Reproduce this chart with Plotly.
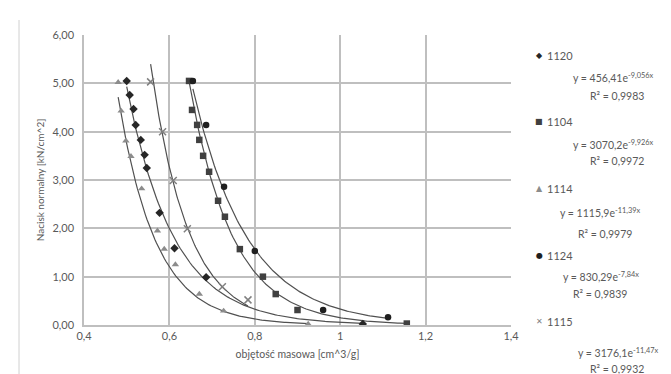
import numpy as np
import plotly.graph_objects as go

# ---- data ----
series_names = ["1120", "1104", "1114", "1124", "1115"]

x_1120 = [0.500, 0.507, 0.516, 0.521, 0.533, 0.542, 0.547, 0.577, 0.612, 0.686, 1.053]
y_1120 = [5.05, 4.76, 4.47, 4.14, 3.83, 3.52, 3.25, 2.32, 1.59, 0.99, 0.02]

x_1104 = [0.646, 0.653, 0.665, 0.670, 0.679, 0.693, 0.714, 0.730, 0.765, 0.819, 0.849, 0.900, 1.156]
y_1104 = [5.05, 4.45, 4.14, 3.83, 3.50, 3.17, 2.57, 2.24, 1.57, 1.00, 0.64, 0.31, 0.03]

x_1114 = [0.480, 0.487, 0.498, 0.510, 0.535, 0.572, 0.588, 0.614, 0.670, 0.727, 0.925]
y_1114 = [5.02, 4.43, 3.81, 3.49, 2.82, 1.95, 1.57, 1.25, 0.64, 0.29, 0.02]

x_1124 = [0.655, 0.686, 0.728, 0.800, 0.960, 1.112]
y_1124 = [5.05, 4.14, 2.86, 1.53, 0.31, 0.16]

x_1115 = [0.556, 0.584, 0.609, 0.642, 0.724, 0.784]
y_1115 = [5.03, 4.00, 2.99, 1.99, 0.79, 0.52]

# trendline coefficients y = a * exp(b x) as printed on the chart
coef_a = [456.41, 3070.2, 1115.9, 830.29, 3176.1]
coef_b = [-9.056, -9.926, -11.39, -7.84, -11.47]
eq_text = ["y = 456,41e<sup>-9,056x</sup>", "y = 3070,2e<sup>-9,926x</sup>",
           "y = 1115,9e<sup>-11,39x</sup>", "y = 830,29e<sup>-7,84x</sup>",
           "y = 3176,1e<sup>-11,47x</sup>"]
r2_text = ["R² = 0,9983", "R² = 0,9972", "R² = 0,9979", "R² = 0,9839", "R² = 0,9932"]

x_ticks = [0.4, 0.6, 0.8, 1.0, 1.2, 1.4]
x_ticklabels = ["0,4", "0,6", "0,8", "1", "1,2", "1,4"]
y_ticks = [0, 1, 2, 3, 4, 5, 6]
y_ticklabels = ["0,00", "1,00", "2,00", "3,00", "4,00", "5,00", "6,00"]

# ---- styling ----
xs = [x_1120, x_1104, x_1114, x_1124, x_1115]
ys = [y_1120, y_1104, y_1114, y_1124, y_1115]
symbols = ["diamond", "square", "triangle-up", "circle", "x-thin"]
colors = ["#262626", "#404040", "#8c8c8c", "#1f1f1f", "#808080"]
sizes = [6.5, 6.5, 6.5, 6.5, 7]
glyphs = ["◆", "■", "▲", "●", "✕"]

FONT = "Lato, Open Sans, sans-serif"
TXT = "#595959"

W, H = 671, 374
L, R, T, B = 76, 503, 27, 317

fig = go.Figure()

for i in range(5):
    xl = np.linspace(min(xs[i]), max(xs[i]), 120)
    yl = coef_a[i] * np.exp(coef_b[i] * xl)
    fig.add_trace(go.Scatter(x=xl, y=yl, mode="lines",
                             line=dict(color="#505050", width=1.2),
                             showlegend=False, hoverinfo="skip"))

for i in range(5):
    mk = dict(symbol=symbols[i], size=sizes[i], color=colors[i])
    if symbols[i] == "x-thin":
        mk["line"] = dict(color=colors[i], width=1.5)
    fig.add_trace(go.Scatter(x=xs[i], y=ys[i], mode="markers", marker=mk,
                             name=series_names[i], showlegend=False))


def px(xpix):
    return (xpix - L) / (R - L)


def py(ypix):
    return (B - ypix) / (B - T)


annotations = []
legend_y = [47, 113, 180, 247, 313]
eq_pos = [(563, 70), (563, 136), (550, 204), (553, 268), (568, 344)]
r2_pos = [(580, 88), (580, 153), (568, 226), (563, 286), (580, 361)]
for i in range(5):
    annotations.append(dict(x=px(531), y=py(legend_y[i]), xref="paper", yref="paper",
                            text=glyphs[i], showarrow=False, xanchor="center", yanchor="middle",
                            font=dict(size=8, color=colors[i], family="DejaVu Sans")))
    annotations.append(dict(x=px(537), y=py(legend_y[i]), xref="paper", yref="paper",
                            text=series_names[i], showarrow=False, xanchor="left", yanchor="middle",
                            font=dict(size=11, color=TXT, family=FONT)))
    annotations.append(dict(x=px(eq_pos[i][0]), y=py(eq_pos[i][1]), xref="paper", yref="paper",
                            text=eq_text[i], showarrow=False, xanchor="left", yanchor="middle",
                            font=dict(size=10.5, color=TXT, family=FONT)))
    annotations.append(dict(x=px(r2_pos[i][0]), y=py(r2_pos[i][1]), xref="paper", yref="paper",
                            text=r2_text[i], showarrow=False, xanchor="left", yanchor="middle",
                            font=dict(size=10.5, color=TXT, family=FONT)))

fig.update_layout(
    width=W, height=H,
    margin=dict(l=L, r=W - R, t=T, b=H - B, autoexpand=False),
    paper_bgcolor="white", plot_bgcolor="white",
    annotations=annotations,
    shapes=[dict(type="line", xref="paper", yref="paper",
                 x0=px(11), x1=px(11), y0=py(12), y1=py(374),
                 line=dict(color="#d0d0d0", width=1))],
    xaxis=dict(range=[0.4, 1.4], tickvals=x_ticks, ticktext=x_ticklabels,
               showgrid=True, gridcolor="#bfbfbf", gridwidth=1.5,
               showline=True, linecolor="#bfbfbf", linewidth=1.5, mirror=False,
               zeroline=False, ticks="", tickfont=dict(size=11, color=TXT, family=FONT),
               title=dict(text="objętość masowa [cm^3/g]", standoff=10,
                          font=dict(size=10.5, color=TXT, family=FONT))),
    yaxis=dict(range=[0, 6], tickvals=y_ticks, ticktext=y_ticklabels,
               showgrid=True, gridcolor="#bfbfbf", gridwidth=1.5,
               showline=True, linecolor="#bfbfbf", linewidth=1.5,
               zeroline=False, ticks="", ticklabelstandoff=6,
               tickfont=dict(size=11, color=TXT, family=FONT),
               title=dict(text="Nacisk normalny [kN/cm^2]", standoff=6,
                          font=dict(size=10, color=TXT, family=FONT))),
)

fig.write_html("out.html")
